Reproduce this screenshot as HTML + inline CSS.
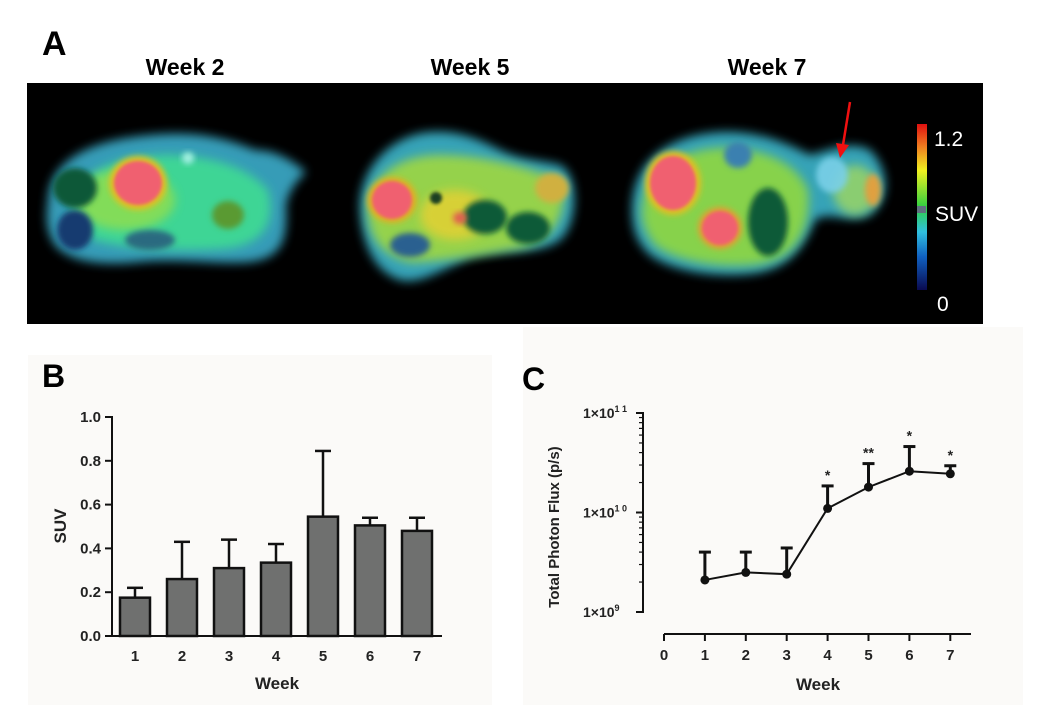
<!DOCTYPE html>
<html><head><meta charset="utf-8"><style>
html,body{margin:0;padding:0;background:#fff;}
body{width:1046px;height:721px;position:relative;overflow:hidden;font-family:"Liberation Sans",sans-serif;}
</style></head><body>
<svg width="1046" height="721" viewBox="0 0 1046 721" xmlns="http://www.w3.org/2000/svg" style="position:absolute;left:0;top:0" font-family="Liberation Sans, sans-serif">
<defs>
<filter id="b3" x="-30%" y="-30%" width="160%" height="160%"><feGaussianBlur stdDeviation="3"/></filter>
<filter id="b6" x="-30%" y="-30%" width="160%" height="160%"><feGaussianBlur stdDeviation="5"/></filter>
<filter id="b2" x="-30%" y="-30%" width="160%" height="160%"><feGaussianBlur stdDeviation="1.5"/></filter>
<linearGradient id="cbar" x1="0" y1="1" x2="0" y2="0">
<stop offset="0" stop-color="#0a0a50"/><stop offset="0.2" stop-color="#1060c0"/><stop offset="0.35" stop-color="#30c0e0"/><stop offset="0.5" stop-color="#30d040"/><stop offset="0.72" stop-color="#f0f020"/><stop offset="0.86" stop-color="#f08020"/><stop offset="1" stop-color="#e01010"/>
</linearGradient>
</defs>
<rect x="28" y="355" width="464" height="350" fill="#fbfaf8"/>
<rect x="523" y="327" width="500" height="378" fill="#fbfaf8"/>

<g>
<text x="42" y="55" font-size="34" font-weight="bold">A</text>
<text x="185" y="75" font-size="23" font-weight="bold" text-anchor="middle">Week 2</text>
<text x="470" y="75" font-size="23" font-weight="bold" text-anchor="middle">Week 5</text>
<text x="767" y="75" font-size="23" font-weight="bold" text-anchor="middle">Week 7</text>
<rect x="27" y="83" width="956" height="241" fill="#000"/>

<g>
<path filter="url(#b6)" d="M48,200 C50,160 90,140 150,135 C200,130 230,140 255,150 C275,150 292,160 306,172 C298,180 290,188 286,205 C288,240 282,258 250,262 C220,265 180,258 140,262 C100,266 70,262 55,245 C45,230 46,215 48,200Z" fill="#40b8d8" opacity="0.85"/>
<path filter="url(#b6)" d="M72,205 C80,170 120,155 170,155 C220,157 250,170 268,190 C275,218 268,242 230,248 C190,252 130,250 95,240 C77,232 70,220 72,205Z" fill="#40e090" opacity="0.85"/>
<ellipse filter="url(#b6)" cx="125" cy="200" rx="50" ry="30" fill="#a0e040" opacity="0.7"/>
<ellipse filter="url(#b3)" cx="75" cy="188" rx="22" ry="20" fill="#105838"/>
<ellipse filter="url(#b3)" cx="75" cy="230" rx="18" ry="20" fill="#183a70"/>
<ellipse filter="url(#b3)" cx="138" cy="183" rx="29" ry="27" fill="#e0c020"/>
<ellipse filter="url(#b2)" cx="138" cy="183" rx="24" ry="22" fill="#f06070"/>
<ellipse filter="url(#b3)" cx="228" cy="215" rx="16" ry="14" fill="#5a9a30"/>
<ellipse filter="url(#b3)" cx="150" cy="240" rx="25" ry="10" fill="#2a6a80"/>
<ellipse filter="url(#b3)" cx="188" cy="158" rx="6" ry="6" fill="#a0f0e0"/>
</g>

<g>
<path filter="url(#b6)" d="M360,210 C358,170 390,135 430,132 C460,130 480,140 500,150 C520,160 540,160 560,165 C580,175 578,225 560,240 C540,255 500,250 470,258 C440,270 420,285 400,280 C375,272 362,245 360,210Z" fill="#40c0d8" opacity="0.85"/>
<path filter="url(#b6)" d="M368,210 C370,175 400,155 440,155 C480,155 520,165 560,180 C570,210 555,240 520,248 C480,255 440,262 410,262 C380,255 368,235 368,210Z" fill="#a0d840" opacity="0.9"/>
<ellipse filter="url(#b6)" cx="455" cy="215" rx="35" ry="25" fill="#e8d030" opacity="0.8"/>
<ellipse filter="url(#b3)" cx="392" cy="200" rx="25" ry="23" fill="#e0b020"/>
<ellipse filter="url(#b2)" cx="392" cy="200" rx="20" ry="19" fill="#f06070"/>
<ellipse filter="url(#b3)" cx="485" cy="217" rx="22" ry="17" fill="#0a5a38"/>
<ellipse filter="url(#b3)" cx="528" cy="228" rx="22" ry="16" fill="#0a5a38"/>
<ellipse filter="url(#b3)" cx="552" cy="188" rx="17" ry="15" fill="#d0b040"/>
<ellipse filter="url(#b3)" cx="410" cy="245" rx="20" ry="12" fill="#2a6090"/>
<ellipse filter="url(#b2)" cx="436" cy="198" rx="6" ry="6" fill="#1a4020"/>
<ellipse filter="url(#b3)" cx="460" cy="218" rx="7" ry="6" fill="#e06050"/>
</g>

<g>
<path filter="url(#b6)" d="M632,210 C632,160 670,135 720,132 C760,130 790,145 810,155 C830,150 850,140 870,150 C890,170 890,200 870,215 C850,225 830,210 815,220 C805,245 790,270 750,274 C710,278 670,270 650,255 C636,242 632,228 632,210Z" fill="#40c0d8" opacity="0.85"/>
<path filter="url(#b6)" d="M642,210 C645,170 680,150 720,148 C760,148 795,160 808,190 C812,230 795,262 750,265 C710,268 670,258 655,245 C645,232 642,222 642,210Z" fill="#90d840" opacity="0.9"/>
<ellipse filter="url(#b6)" cx="855" cy="190" rx="22" ry="25" fill="#a0d860" opacity="0.8"/>
<ellipse filter="url(#b3)" cx="832" cy="175" rx="16" ry="18" fill="#7ad0e8" opacity="0.9"/>
<ellipse filter="url(#b3)" cx="873" cy="190" rx="8" ry="16" fill="#e0a040"/>
<ellipse filter="url(#b3)" cx="673" cy="183" rx="28" ry="32" fill="#e0c020"/>
<ellipse filter="url(#b2)" cx="673" cy="183" rx="23" ry="27" fill="#f06070"/>
<ellipse filter="url(#b3)" cx="720" cy="228" rx="22" ry="21" fill="#e0a030"/>
<ellipse filter="url(#b2)" cx="720" cy="228" rx="18" ry="17" fill="#f06070"/>
<ellipse filter="url(#b3)" cx="768" cy="222" rx="20" ry="34" fill="#0a5a38"/>
<ellipse filter="url(#b3)" cx="738" cy="155" rx="14" ry="13" fill="#3a80b0"/>
</g>
<line x1="850" y1="102" x2="843" y2="145" stroke="#f01010" stroke-width="2.5"/>
<polygon points="836,143 849,145 840,158" fill="#f01010"/>

<rect x="917" y="124" width="10" height="166" fill="url(#cbar)"/>
<rect x="917" y="206" width="9" height="7" fill="#607080"/>
<text x="934" y="146" font-size="21" fill="#fff">1.2</text>
<text x="935" y="221" font-size="21" fill="#fff">SUV</text>
<text x="937" y="311" font-size="21" fill="#fff">0</text>
</g>

<text x="42" y="387" font-size="32" font-weight="bold">B</text>
<g id="chartB"></g>
<text x="522" y="390" font-size="32" font-weight="bold">C</text>
<g id="chartC"></g>
</svg>
<script>
const weeksB = [1,2,3,4,5,6,7];
const suvMean = [0.175,0.26,0.31,0.335,0.545,0.505,0.48];
const suvErrTop = [0.22,0.43,0.44,0.42,0.845,0.54,0.54];
const suvTicks = ["0.0","0.2","0.4","0.6","0.8","1.0"];

const weeksC = [1,2,3,4,5,6,7];
const fluxMean = [2.1e9,2.5e9,2.4e9,1.1e10,1.8e10,2.6e10,2.45e10];
const fluxErrTop = [4.0e9,4.0e9,4.4e9,1.85e10,3.1e10,4.6e10,2.95e10];
const fluxSig = ["","","","*","**","*","*"];
const xTicksC = ["0","1","2","3","4","5","6","7"];

const NS="http://www.w3.org/2000/svg";
function mk(parent,tag,attrs,text){const e=document.createElementNS(NS,tag);for(const k in attrs)e.setAttribute(k,attrs[k]);if(text!==undefined)e.textContent=text;parent.appendChild(e);return e;}

(function(){
const g=document.getElementById('chartB');
const y=v=>636-v*219;
const x=w=>135+(w-1)*47;
let ax=mk(g,'line',{x1:112,y1:416,x2:112,y2:637,stroke:'#111','stroke-width':2});


let bx=mk(g,'line',{x1:105,y1:636,x2:442,y2:636,stroke:'#111','stroke-width':2});


suvTicks.forEach(t=>{const v=parseFloat(t);
 mk(g,'line',{x1:105,y1:y(v),x2:112,y2:y(v),stroke:'#111','stroke-width':2});
 const tx=mk(g,'text',{x:101,y:y(v)+5,'font-size':15,'font-weight':'bold','text-anchor':'end',fill:'#222'},t);
 
 
});
weeksB.forEach((w,i)=>{
 const cx=x(w);
 const e=mk(g,'line',{x1:cx,y1:y(suvErrTop[i]),x2:cx,y2:y(suvMean[i]),stroke:'#111','stroke-width':2.5});
 
 
 mk(g,'line',{x1:cx-8,y1:y(suvErrTop[i]),x2:cx+8,y2:y(suvErrTop[i]),stroke:'#111','stroke-width':2.5});
 const r=mk(g,'rect',{x:cx-15,y:y(suvMean[i]),width:30,height:636-y(suvMean[i]),fill:'#6f706f',stroke:'#111','stroke-width':2.5});
 
 
 const tl=mk(g,'text',{x:cx,y:661,'font-size':15,'font-weight':'bold','text-anchor':'middle',fill:'#222'},String(w));
 
 
});
const xt=mk(g,'text',{x:277,y:689,'font-size':17,'font-weight':'bold','text-anchor':'middle',fill:'#222'},'Week');


const yt=mk(g,'text',{x:0,y:0,'font-size':17,'font-weight':'bold','text-anchor':'middle',fill:'#222',transform:'translate(66,526) rotate(-90)'},'SUV');


})();

(function(){
const g=document.getElementById('chartC');
const y=v=>612-(Math.log10(v)-9)*99.5;
const x=w=>664+w*40.9;
let ax=mk(g,'line',{x1:643,y1:412,x2:643,y2:613,stroke:'#111','stroke-width':2});


for(let d=9;d<11;d++){for(let m=2;m<10;m++){const yy=y(m*Math.pow(10,d));mk(g,'line',{x1:639,y1:yy,x2:643,y2:yy,stroke:'#111','stroke-width':1.2});}}
[9,10,11].forEach(d=>{
 mk(g,'line',{x1:636,y1:y(Math.pow(10,d)),x2:643,y2:y(Math.pow(10,d)),stroke:'#111','stroke-width':2});
 const t=mk(g,'text',{x:583,y:y(Math.pow(10,d))+5,'font-size':14,'font-weight':'bold',fill:'#222'});
 
 
 t.innerHTML='1×10<tspan font-size="9" dy="-6">'+d.toString().split('').join(' ')+'</tspan>';
});
let bx=mk(g,'line',{x1:664,y1:634,x2:971,y2:634,stroke:'#111','stroke-width':2});


xTicksC.forEach((t,i)=>{const xx=x(parseFloat(t));
 mk(g,'line',{x1:xx,y1:634,x2:xx,y2:641,stroke:'#111','stroke-width':2});
 const tl=mk(g,'text',{x:xx,y:660,'font-size':15,'font-weight':'bold','text-anchor':'middle',fill:'#222'},t);
 
 
});
let pts=weeksC.map((w,i)=>x(w)+','+y(fluxMean[i])).join(' ');
const pl=mk(g,'polyline',{points:pts,fill:'none',stroke:'#111','stroke-width':2});


weeksC.forEach((w,i)=>{
 const cx=x(w);
 const e=mk(g,'line',{x1:cx,y1:y(fluxErrTop[i]),x2:cx,y2:y(fluxMean[i]),stroke:'#111','stroke-width':3});
 
 
 mk(g,'line',{x1:cx-6,y1:y(fluxErrTop[i]),x2:cx+6,y2:y(fluxErrTop[i]),stroke:'#111','stroke-width':3});
 const p=mk(g,'circle',{cx:cx,cy:y(fluxMean[i]),r:4.5,fill:'#111'});
 
 
 if(fluxSig[i]){const s=mk(g,'text',{x:cx,y:y(fluxErrTop[i])-6,'font-size':14,'font-weight':'bold','text-anchor':'middle',fill:'#222'},fluxSig[i]);
 
 }
});
const xt=mk(g,'text',{x:818,y:690,'font-size':17,'font-weight':'bold','text-anchor':'middle',fill:'#222'},'Week');


const yt=mk(g,'text',{x:0,y:0,'font-size':15,'font-weight':'bold','text-anchor':'middle',fill:'#222',transform:'translate(559,527) rotate(-90)'},'Total Photon Flux (p/s)');


})();
</script>
</body></html>
